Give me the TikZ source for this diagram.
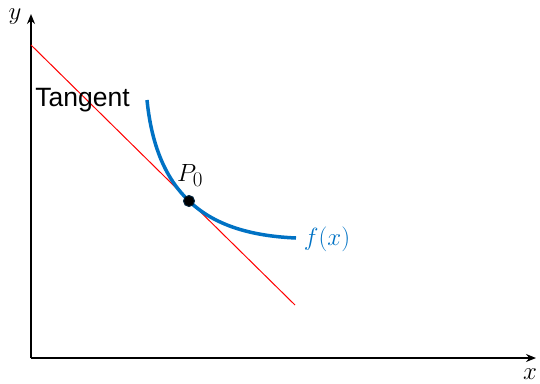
\documentclass[tikz,border=0pt]{standalone}
\usepackage{fontspec}
\newfontfamily\sansf{Liberation Sans}
\usetikzlibrary{arrows.meta}
\definecolor{fblue}{RGB}{0,114,196}
\begin{document}
\begin{tikzpicture}[x=1pt,y=-1pt,
  axis/.style={line width=1.5pt,-{Stealth[length=10pt,width=8pt]}},
  lbl/.style={font=\fontsize{27}{32}\selectfont,inner sep=0pt},
  curvestyle/.style={fblue,line width=3.5pt},
  tangentstyle/.style={red,line width=1pt}]
\useasboundingbox (0,0) rectangle (540,383);
\coordinate (O) at (31,358);
\coordinate (Ytip) at (31,14);
\coordinate (Xtip) at (536,358);
\draw[axis] (O) -- (Ytip);
\draw[axis] (O) -- (Xtip);
\node[lbl] (ylab) at (15,17) {$y$};
\node[lbl] (xlab) at (530,374) {$x$};
\coordinate (T1) at (31,45);
\coordinate (T2) at (295,305);
\draw[tangentstyle] (T1) -- (T2);
\coordinate (C0) at (147,100);
\coordinate (P) at (189,201);
\coordinate (C2) at (296,238);
\draw[curvestyle] (C0) .. controls (152,150) and (168,181) .. (P) .. controls (214,225) and (250,236) .. (C2);
\node[circle,fill=black,draw=black!70!fblue,line width=1pt,minimum size=11pt,inner sep=0pt] (dot) at (P) {};
\node[lbl] (plab) at (190,176) {$P_{\mbox{\fontsize{21}{21}\selectfont 0}}$};
\node[lbl,text=fblue] (flab) at (327,239) {$f(x)$};
\node[inner sep=0pt,font=\sansf\fontsize{26.5}{30}\selectfont] (tlab) at (82.5,100) {Tangent};
\end{tikzpicture}
\end{document}
